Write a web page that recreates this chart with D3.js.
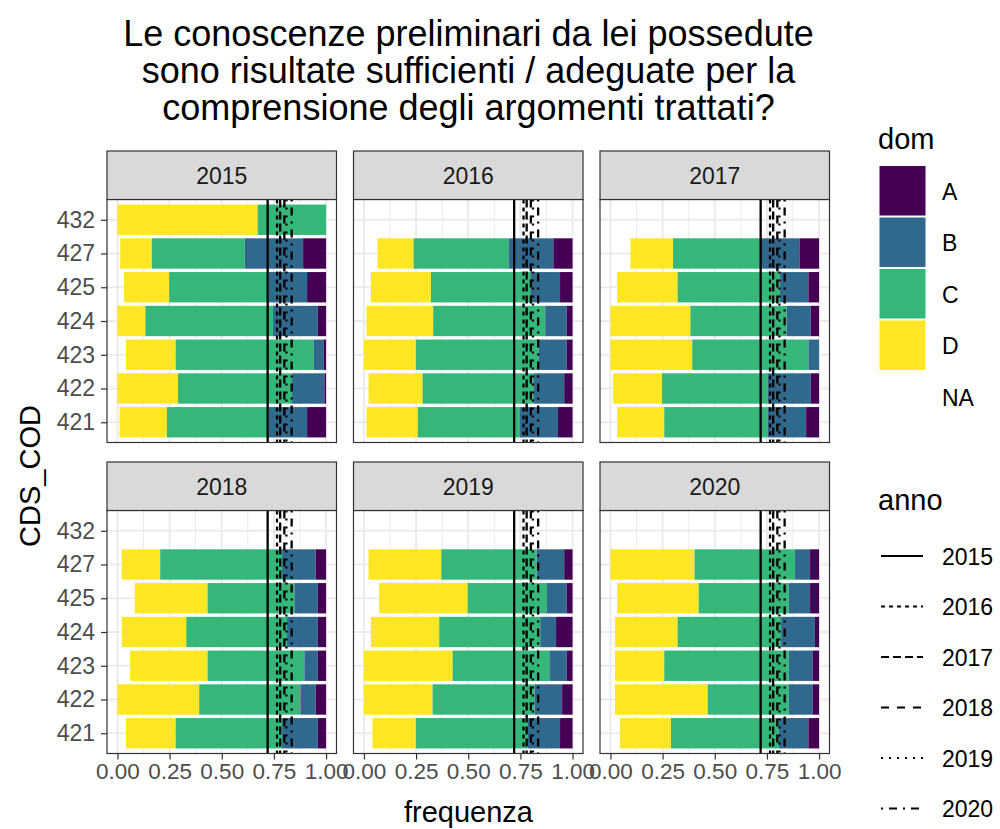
<!DOCTYPE html>
<html>
<head>
<meta charset="utf-8">
<script src="https://cdn.jsdelivr.net/npm/d3@7"></script>
<style>
  body { margin: 0; background: #fff; }
  text { font-family: "Liberation Sans", Arial, sans-serif; }
</style>
</head>
<body>
<div id="chart"></div>
<script>
// chart size
const width = 1000;
const height = 829;

const years = [2015, 2016, 2017, 2018, 2019, 2020];
const cds = ["421", "422", "423", "424", "425", "427", "432"];
const doms = ["NA", "D", "C", "B", "A"]; // stacking order, left to right

// shares per year (rows) and CDS_COD (columns, same order as cds)
const shareNA = [
  [0.010, 0.000, 0.041, 0.000, 0.032, 0.013, 0.000],
  [0.012, 0.022, 0.000, 0.012, 0.033, 0.065, 0],
  [0.032, 0.013, 0.000, 0.000, 0.032, 0.096, 0],
  [0.041, 0.000, 0.061, 0.021, 0.083, 0.021, 0],
  [0.041, 0.000, 0.000, 0.033, 0.073, 0.022, 0],
  [0.045, 0.022, 0.022, 0.022, 0.032, 0.000, 0]
];
const shareD = [
  [0.227, 0.290, 0.238, 0.134, 0.216, 0.152, 0.672],
  [0.246, 0.259, 0.249, 0.320, 0.288, 0.173, 0],
  [0.226, 0.234, 0.392, 0.383, 0.290, 0.204, 0],
  [0.238, 0.392, 0.371, 0.309, 0.349, 0.184, 0],
  [0.208, 0.329, 0.425, 0.328, 0.424, 0.349, 0],
  [0.245, 0.444, 0.236, 0.300, 0.391, 0.403, 0]
];
const shareC = [
  [0.488, 0.547, 0.662, 0.612, 0.477, 0.445, 0.328],
  [0.490, 0.531, 0.588, 0.537, 0.476, 0.455, 0],
  [0.495, 0.506, 0.557, 0.462, 0.491, 0.421, 0],
  [0.510, 0.485, 0.464, 0.483, 0.416, 0.584, 0],
  [0.537, 0.488, 0.464, 0.484, 0.380, 0.457, 0],
  [0.517, 0.389, 0.597, 0.496, 0.432, 0.482, 0]
];
const shareB = [
  [0.184, 0.155, 0.048, 0.214, 0.184, 0.280, 0],
  [0.182, 0.148, 0.135, 0.103, 0.143, 0.215, 0],
  [0.185, 0.207, 0.051, 0.115, 0.136, 0.185, 0],
  [0.171, 0.073, 0.064, 0.147, 0.112, 0.161, 0],
  [0.154, 0.133, 0.083, 0.076, 0.095, 0.132, 0],
  [0.142, 0.115, 0.115, 0.162, 0.102, 0.072, 0]
];
const shareA = [
  [0.091, 0.008, 0.011, 0.040, 0.091, 0.110, 0],
  [0.070, 0.040, 0.028, 0.028, 0.060, 0.092, 0],
  [0.062, 0.040, 0.000, 0.040, 0.051, 0.094, 0],
  [0.040, 0.050, 0.040, 0.040, 0.040, 0.050, 0],
  [0.060, 0.050, 0.028, 0.079, 0.028, 0.040, 0],
  [0.051, 0.030, 0.030, 0.020, 0.043, 0.043, 0]
];

// reference line per anno (drawn in every panel)
const annoRef = [0.72, 0.765, 0.78, 0.80, 0.81, 0.835];
const xTicks = [0, 0.25, 0.5, 0.75, 1];

const domColor = { A: "#440154", B: "#31688E", C: "#35B779", D: "#FDE725" };
const annoDash = ["none", "4,4", "8,4", "8,8", "2,6", "2,6,8,6"];

// panel layout (facet_wrap, 3 columns)
const colLeft = [107, 353.5, 600];
const panelW = 229.5;
const stripTop = [151, 462];
const stripH = 48.5;
const panelH = 243;

const svg = d3.select("#chart")
  .append("svg")
  .attr("width", width)
  .attr("height", height);

// title
const titleLines = [
  "Le conoscenze preliminari da lei possedute",
  "sono risultate sufficienti / adeguate per la",
  "comprensione degli argomenti trattati?"
];
svg.append("g").selectAll("text")
  .data(titleLines)
  .enter()
  .append("text")
  .attr("x", 468.5)
  .attr("y", (d, i) => 46 + i * 37)
  .attr("text-anchor", "middle")
  .style("font-size", "36px")
  .attr("fill", "#000")
  .text(d => d);

// build stacked data
const stack = d3.stack().keys(doms);

years.forEach((year, yi) => {
  const col = yi % 3;
  const row = Math.floor(yi / 3);
  const left = colLeft[col];
  const sTop = stripTop[row];
  const pTop = sTop + stripH;

  const x = d3.scaleLinear().domain([-0.05, 1.05]).range([left, left + panelW]);
  const y = d3.scalePoint().domain(cds.slice().reverse()).range([pTop, pTop + panelH]).padding(0.6);
  const barH = y.step() * 0.9;

  const g = svg.append("g");

  // panel background
  g.append("rect")
    .attr("x", left).attr("y", pTop)
    .attr("width", panelW).attr("height", panelH)
    .attr("fill", "#fff");

  // minor grid
  g.selectAll(".minor")
    .data([0.125, 0.375, 0.625, 0.875])
    .enter().append("line")
    .attr("x1", d => x(d)).attr("x2", d => x(d))
    .attr("y1", pTop).attr("y2", pTop + panelH)
    .attr("stroke", "#EBEBEB").attr("stroke-width", 1);

  // major grid
  g.selectAll(".majorx")
    .data(xTicks)
    .enter().append("line")
    .attr("x1", d => x(d)).attr("x2", d => x(d))
    .attr("y1", pTop).attr("y2", pTop + panelH)
    .attr("stroke", "#EBEBEB").attr("stroke-width", 2);
  g.selectAll(".majory")
    .data(cds)
    .enter().append("line")
    .attr("x1", left).attr("x2", left + panelW)
    .attr("y1", d => y(d)).attr("y2", d => y(d))
    .attr("stroke", "#EBEBEB").attr("stroke-width", 2);

  // bars
  const rows = cds.map((c, ci) => ({
    cds: c,
    NA: shareNA[yi][ci],
    D: shareD[yi][ci],
    C: shareC[yi][ci],
    B: shareB[yi][ci],
    A: shareA[yi][ci]
  }));
  const series = stack(rows);
  series.forEach(s => {
    if (s.key === "NA") return; // NA drawn transparent
    g.selectAll(null)
      .data(s.filter(d => d[1] - d[0] > 0))
      .enter().append("rect")
      .attr("x", d => x(d[0]))
      .attr("width", d => x(d[1]) - x(d[0]))
      .attr("y", d => y(d.data.cds) - barH / 2)
      .attr("height", barH)
      .attr("fill", domColor[s.key]);
  });

  // reference lines
  g.selectAll(".vline")
    .data(annoRef)
    .enter().append("line")
    .attr("x1", d => x(d)).attr("x2", d => x(d))
    .attr("y1", pTop).attr("y2", pTop + panelH)
    .attr("stroke", "#000").attr("stroke-width", 2.3)
    .attr("stroke-dasharray", (d, i) => annoDash[i]);

  // panel border
  g.append("rect")
    .attr("x", left).attr("y", pTop)
    .attr("width", panelW).attr("height", panelH)
    .attr("fill", "none").attr("stroke", "#333").attr("stroke-width", 1.2);

  // strip
  g.append("rect")
    .attr("x", left).attr("y", sTop)
    .attr("width", panelW).attr("height", stripH)
    .attr("fill", "#D9D9D9").attr("stroke", "#333").attr("stroke-width", 1.2);
  g.append("text")
    .attr("x", left + panelW / 2)
    .attr("y", sTop + stripH / 2 + 8.5)
    .attr("text-anchor", "middle")
    .style("font-size", "23px")
    .attr("fill", "#1A1A1A")
    .text(year);

  // y axis on first column
  if (col === 0) {
    const yAxis = d3.axisLeft(y).tickSize(6).tickPadding(6);
    const ya = g.append("g").attr("transform", `translate(${left},0)`).call(yAxis);
    ya.select(".domain").remove();
    ya.selectAll("line").attr("stroke", "#333").attr("stroke-width", 1.2);
    ya.selectAll("text").style("font-size", "23px").attr("fill", "#4D4D4D")
      .style("font-family", "Liberation Sans, Arial, sans-serif");
  }
  // x axis on bottom row
  if (row === 1) {
    const xAxis = d3.axisBottom(x).tickValues(xTicks).tickFormat(d3.format(".2f")).tickSize(6).tickPadding(4);
    const xa = g.append("g").attr("transform", `translate(0,${pTop + panelH})`).call(xAxis);
    xa.select(".domain").remove();
    xa.selectAll("line").attr("stroke", "#333").attr("stroke-width", 1.2);
    xa.selectAll("text").style("font-size", "22.5px").attr("fill", "#4D4D4D")
      .style("font-family", "Liberation Sans, Arial, sans-serif");
  }
});

// axis titles
svg.append("text")
  .attr("x", 468.5).attr("y", 822)
  .attr("text-anchor", "middle")
  .style("font-size", "29px")
  .text("frequenza");
svg.append("text")
  .attr("transform", "translate(40,476) rotate(-90)")
  .attr("text-anchor", "middle")
  .style("font-size", "29px")
  .text("CDS_COD");

// legend: dom
const legDom = svg.append("g");
legDom.append("text").attr("x", 878).attr("y", 149).style("font-size", "29px").text("dom");
const domKeys = ["A", "B", "C", "D", "NA"];
legDom.selectAll("rect")
  .data(domKeys)
  .enter().append("rect")
  .attr("x", 879.5)
  .attr("y", (d, i) => 166 + i * 51.5)
  .attr("width", 46)
  .attr("height", 49.5)
  .attr("fill", d => domColor[d] || "none");
legDom.selectAll(".lab")
  .data(domKeys)
  .enter().append("text")
  .attr("x", 942)
  .attr("y", (d, i) => 166 + i * 51.5 + 25 + 8.5)
  .style("font-size", "23px")
  .attr("fill", "#000")
  .text(d => d);

// legend: anno
const legAnno = svg.append("g");
legAnno.append("text").attr("x", 878).attr("y", 510).style("font-size", "29px").text("anno");
legAnno.selectAll("line")
  .data(years)
  .enter().append("line")
  .attr("x1", 881).attr("x2", 923)
  .attr("y1", (d, i) => 556 + i * 50.5)
  .attr("y2", (d, i) => 556 + i * 50.5)
  .attr("stroke", "#000").attr("stroke-width", 2)
  .attr("stroke-dasharray", (d, i) => annoDash[i]);
legAnno.selectAll(".lab")
  .data(years)
  .enter().append("text")
  .attr("x", 942)
  .attr("y", (d, i) => 556 + i * 50.5 + 8.5)
  .style("font-size", "23px")
  .text(d => d);
</script>
</body>
</html>
